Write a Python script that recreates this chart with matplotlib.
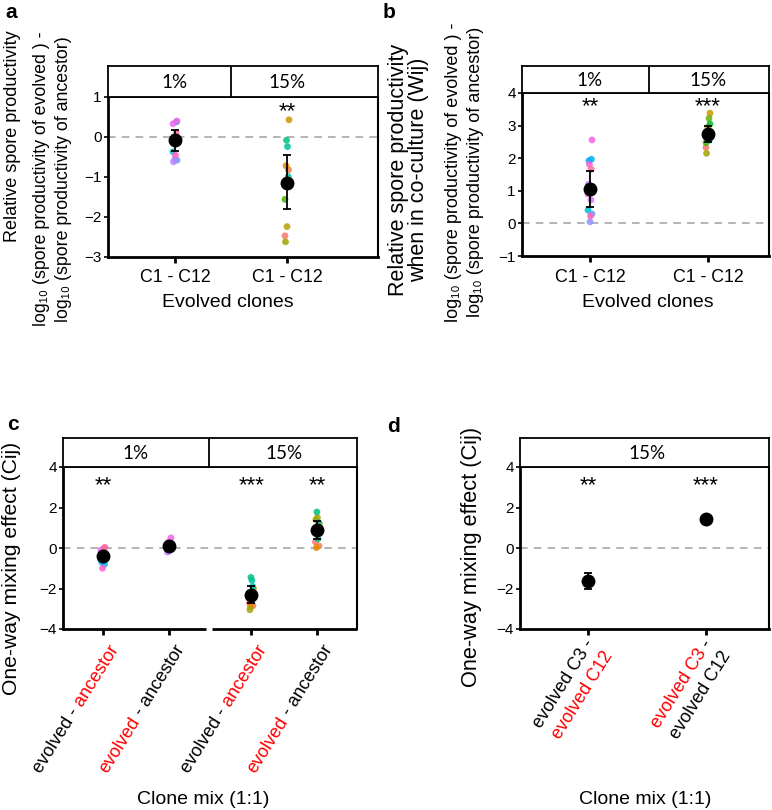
import numpy as np
import matplotlib
matplotlib.use("Agg")
import matplotlib.pyplot as plt

plt.rcParams['font.family'] = ['Liberation Sans', 'DejaVu Sans']

W, H = 772, 810
RED = '#ff0000'

# clone colours, one per evolved clone C1 - C12 in each transfer regime
colors_15 = ["#F8766D", "#EF7F49", "#E58700", "#C99800", "#B79F00", "#A3A500",
             "#6BB100", "#39B600", "#00BA38", "#00BF7D", "#00C097", "#00C0AF"]
colors_1 = ["#00BCD8", "#00B6EB", "#00A9FF", "#619CFF", "#9590FF", "#B983FF",
            "#D575FE", "#E76BF3", "#F564E3", "#FD61D1", "#FF62BC", "#FF6C91"]
jitter_px = [-2, 1.5, -1, 2, 0, -1.5, 1, -2, 2, -0.5, 0.5, 1.2]

# panel a: relative spore productivity (monoculture)
a_labels = ["C1 - C12", "C1 - C12"]
a_strips = ["1%", "15%"]
a_pts_1 = [-0.37, 0.38, 0.0, -0.58, -0.55, -0.62, -0.05, 0.33, 0.40, -0.16, -0.45, 0.1]
a_pts_15 = [-2.47, -0.82, -0.72, 0.43, -2.24, -2.62, -1.15, -1.56, -1.1, -0.08, -0.24, -0.99]
a_mean = [-0.08, -1.14]
a_lo = [-0.35, -1.80]
a_hi = [0.18, -0.45]
a_sig = ["", "**"]

# panel b: relative spore productivity in co-culture (Wij)
b_labels = ["C1 - C12", "C1 - C12"]
b_strips = ["1%", "15%"]
b_pts_1 = [0.41, 1.97, 1.92, 0.29, 0.05, 1.2, 0.72, 0.9, 2.56, 1.81, 0.23, 1.66]
b_pts_15 = [2.33, 2.65, 2.8, 3.38, 2.95, 2.15, 3.22, 2.48, 3.05, 2.58, 2.7, 2.55]
b_mean = [1.05, 2.74]
b_lo = [0.49, 2.51]
b_hi = [1.62, 3.0]
b_sig = ["**", "***"]

# panel c: one-way mixing effect (Cij), evolved vs ancestor
c_labels = [[("evolved -", "k"), (" ancestor", RED)],
            [("evolved", RED), (" - ancestor", "k")],
            [("evolved -", "k"), (" ancestor", RED)],
            [("evolved", RED), (" - ancestor", "k")]]
c_strips = ["1%", "15%"]
c_pts = [[-0.6, -0.8, -0.7, -0.5, -0.3, -0.2, -0.35, -0.1, 0.03, -1.0, -0.25, 0.0],
         [0.1, 0.15, 0.05, -0.05, -0.15, -0.2, 0.0, 0.2, 0.5, 0.3, 0.1, 0.2],
         [-2.7, -2.85, -2.9, -2.0, -2.2, -3.05, -2.5, -2.3, -2.4, -1.45, -1.6, -1.9],
         [0.3, 0.1, 0.02, 1.2, 1.5, 1.4, 0.9, 0.8, 1.0, 1.78, 0.45, 1.25]]
c_mean = [-0.40, 0.10, -2.32, 0.89]
c_lo = [-0.55, -0.02, -2.70, 0.45]
c_hi = [-0.25, 0.22, -1.90, 1.35]
c_sig = ["**", "", "***", "**"]

# panel d: one-way mixing effect (Cij), evolved C3 vs evolved C12
d_labels = [[[("evolved C3 -", "k")], [("evolved C12", RED)]],
            [[("evolved C3", RED), (" -", "k")], [("evolved C12", "k")]]]
d_strips = ["15%"]
d_mean = [-1.63, 1.43]
d_lo = [-2.04, 1.35]
d_hi = [-1.22, 1.51]
d_sig = ["**", "***"]

fig = plt.figure(figsize=(W / 100, H / 100), dpi=100)


def px_axes(left, top, right, bottom):
    return fig.add_axes([left / W, 1 - bottom / H, (right - left) / W, (bottom - top) / H])


def strip(box, top, xlim, labels, label_x, dividers):
    sx = px_axes(box[0], top, box[2], box[1])
    sx.set_xlim(xlim)
    sx.set_ylim(0, 1)
    sx.set_xticks([])
    sx.set_yticks([])
    for s in sx.spines.values():
        s.set_linewidth(1.3)
    for d in dividers:
        sx.axvline(d, color='k', lw=1.3)
    for lab, x in zip(labels, label_x):
        sx.text(x, 0.47, lab, ha='center', va='center', fontsize=13.5, family=['Lato', 'DejaVu Sans'])
    return sx


def main_axes(box, xlim, ylim, yticks, xpos):
    ax = px_axes(*box)
    ax.set_xlim(xlim)
    ax.set_ylim(ylim)
    ax.set_yticks(yticks)
    ax.set_xticks(xpos)
    ax.spines['left'].set_linewidth(2.0)
    ax.spines['bottom'].set_linewidth(2.0)
    ax.spines['right'].set_linewidth(1.5)
    ax.spines['top'].set_linewidth(1.3)
    ax.tick_params(axis='x', length=4, width=2.0, pad=5, labelsize=12.8)
    ax.tick_params(axis='y', length=3, width=1.2, pad=1.5, labelsize=11)
    ax.axhline(0, color='#a0a0a0', ls=(0, (5, 4)), lw=1.1, zorder=1)
    return ax


def draw_points(ax, x, pts, cols):
    ppu = (ax.get_position().width * W) / (ax.get_xlim()[1] - ax.get_xlim()[0])
    xs = x + np.array(jitter_px) / ppu
    ax.scatter(xs, pts, s=24, c=cols, alpha=0.85, edgecolors='none', zorder=2)


def draw_means(ax, xpos, mean, lo, hi, sig, sig_y):
    mean = np.array(mean)
    err = [mean - np.array(lo), np.array(hi) - mean]
    ax.errorbar(xpos, mean, yerr=err, fmt='o', color='k', ms=9, capsize=3,
                elinewidth=1.3, capthick=1.3, zorder=3)
    for x, s in zip(xpos, sig):
        ax.annotate(s, (x, sig_y), xytext=(0, -9), textcoords='offset points',
                    ha='center', va='baseline', fontsize=16)


def rich_label(ax, x, lines, angle=58, fs=13, spacing=22, dx=12, dy=18):
    renderer = fig.canvas.get_renderer()
    px, py = ax.transData.transform((x, ax.get_ylim()[0]))
    ax_x, ax_y = px + dx, py - dy
    th = np.deg2rad(angle)
    u = np.array([np.cos(th), np.sin(th)])
    p = np.array([np.sin(th), -np.cos(th)])
    n = len(lines)
    for k, pieces in enumerate(lines):
        widths = []
        for s, _ in pieces:
            t = fig.text(0, 0, s, fontsize=fs)
            widths.append(t.get_window_extent(renderer).width)
            t.remove()
        end = np.array([ax_x, ax_y]) + (k - (n - 1) / 2) * spacing * p
        start = end - sum(widths) * u
        cum = 0
        for (s, c), w in zip(pieces, widths):
            pos = start + cum * u
            fig.text(pos[0] / W, pos[1] / H, s, color=c, fontsize=fs, rotation=angle,
                     rotation_mode='anchor', ha='left', va='center')
            cum += w


# ---- panel a
box_a = (108, 97, 378, 257)
xa = [0, 1]
ax_a = main_axes(box_a, (-0.598, 1.8125), (-3, 1), [-3, -2, -1, 0, 1], xa)
ax_a.set_xticklabels(a_labels)
draw_points(ax_a, xa[0], a_pts_1, colors_1)
draw_points(ax_a, xa[1], a_pts_15, colors_15)
draw_means(ax_a, xa, a_mean, a_lo, a_hi, a_sig, 0.8)
strip(box_a, 66, ax_a.get_xlim(), a_strips, xa, [0.5])

# ---- panel b
box_b = (522, 93, 769, 256)
xb = [0, 1]
ax_b = main_axes(box_b, (-0.576, 1.517), (-1, 4), [-1, 0, 1, 2, 3, 4], xb)
ax_b.set_xticklabels(b_labels)
draw_points(ax_b, xb[0], b_pts_1, colors_1)
draw_points(ax_b, xb[1], b_pts_15, colors_15)
draw_means(ax_b, xb, b_mean, b_lo, b_hi, b_sig, 3.78)
strip(box_b, 66, ax_b.get_xlim(), b_strips, xb, [0.5])

# ---- panel c
box_c = (63, 467, 357, 629)
xc = [0, 1, 2.25, 3.25]
ax_c = main_axes(box_c, (-0.606, 3.85), (-4, 4), [-4, -2, 0, 2, 4], xc)
ax_c.set_xticklabels([])
ax_c.spines['bottom'].set_visible(False)
ax_c.plot([-0.606, 1.565], [-4, -4], color='k', lw=2.0, clip_on=False, solid_capstyle='butt')
ax_c.plot([1.645, 3.85], [-4, -4], color='k', lw=2.0, clip_on=False, solid_capstyle='butt')
for x, pts, cols in zip(xc, c_pts, [colors_1, colors_1, colors_15, colors_15]):
    draw_points(ax_c, x, pts, cols)
draw_means(ax_c, xc, c_mean, c_lo, c_hi, c_sig, 3.4)
strip(box_c, 438, ax_c.get_xlim(), c_strips, [0.5, 2.75], [1.6])

# ---- panel d
box_d = (520, 467, 769, 629)
xd = [0, 1]
ax_d = main_axes(box_d, (-0.576, 1.534), (-4, 4), [-4, -2, 0, 2, 4], xd)
ax_d.set_xticklabels([])
draw_means(ax_d, xd, d_mean, d_lo, d_hi, d_sig, 3.4)
strip(box_d, 438, ax_d.get_xlim(), d_strips, [0.5], [])

fig.canvas.draw()
for x, lab in zip(xc, c_labels):
    rich_label(ax_c, x, [lab])
for x, lab in zip(xd, d_labels):
    rich_label(ax_d, x, lab)


# ---- axis titles and panel letters
def ftext(x, y, s, **kw):
    fig.text(x / W, 1 - y / H, s, ha='center', va='center', **kw)


ftext(13, 136, "Relative spore productivity", rotation=90, fontsize=13)
ftext(42, 179, "log\u2081\u2080 (spore productivity of evolved ) -", rotation=90, fontsize=12.8)
ftext(64, 179, "log\u2081\u2080 (spore productivity of ancestor)", rotation=90, fontsize=12.8)
ftext(228, 303, "Evolved clones", fontsize=14)

ftext(398, 170, "Relative spore productivity", rotation=90, fontsize=15.5)
ftext(419, 170, "when in co-culture (Wij)", rotation=90, fontsize=15.5)
ftext(453, 172, "log\u2081\u2080 (spore productivity of evolved ) -", rotation=90, fontsize=13)
ftext(475, 172, "log\u2081\u2080 (spore productivity of ancestor)", rotation=90, fontsize=13)
ftext(648, 303, "Evolved clones", fontsize=14)

ftext(12, 568, "One-way mixing effect (Cij)", rotation=90, fontsize=15.2)
ftext(203, 799, "Clone mix (1:1)", fontsize=14)
ftext(472, 557, "One-way mixing effect (Cij)", rotation=90, fontsize=15.7)
ftext(645, 799, "Clone mix (1:1)", fontsize=14)

for s, x, y in [("a", 11, 13), ("b", 389, 13), ("c", 13, 424), ("d", 393, 426)]:
    ftext(x, y, s, fontsize=15, fontweight='bold')

fig.savefig("out.png", dpi=100)
